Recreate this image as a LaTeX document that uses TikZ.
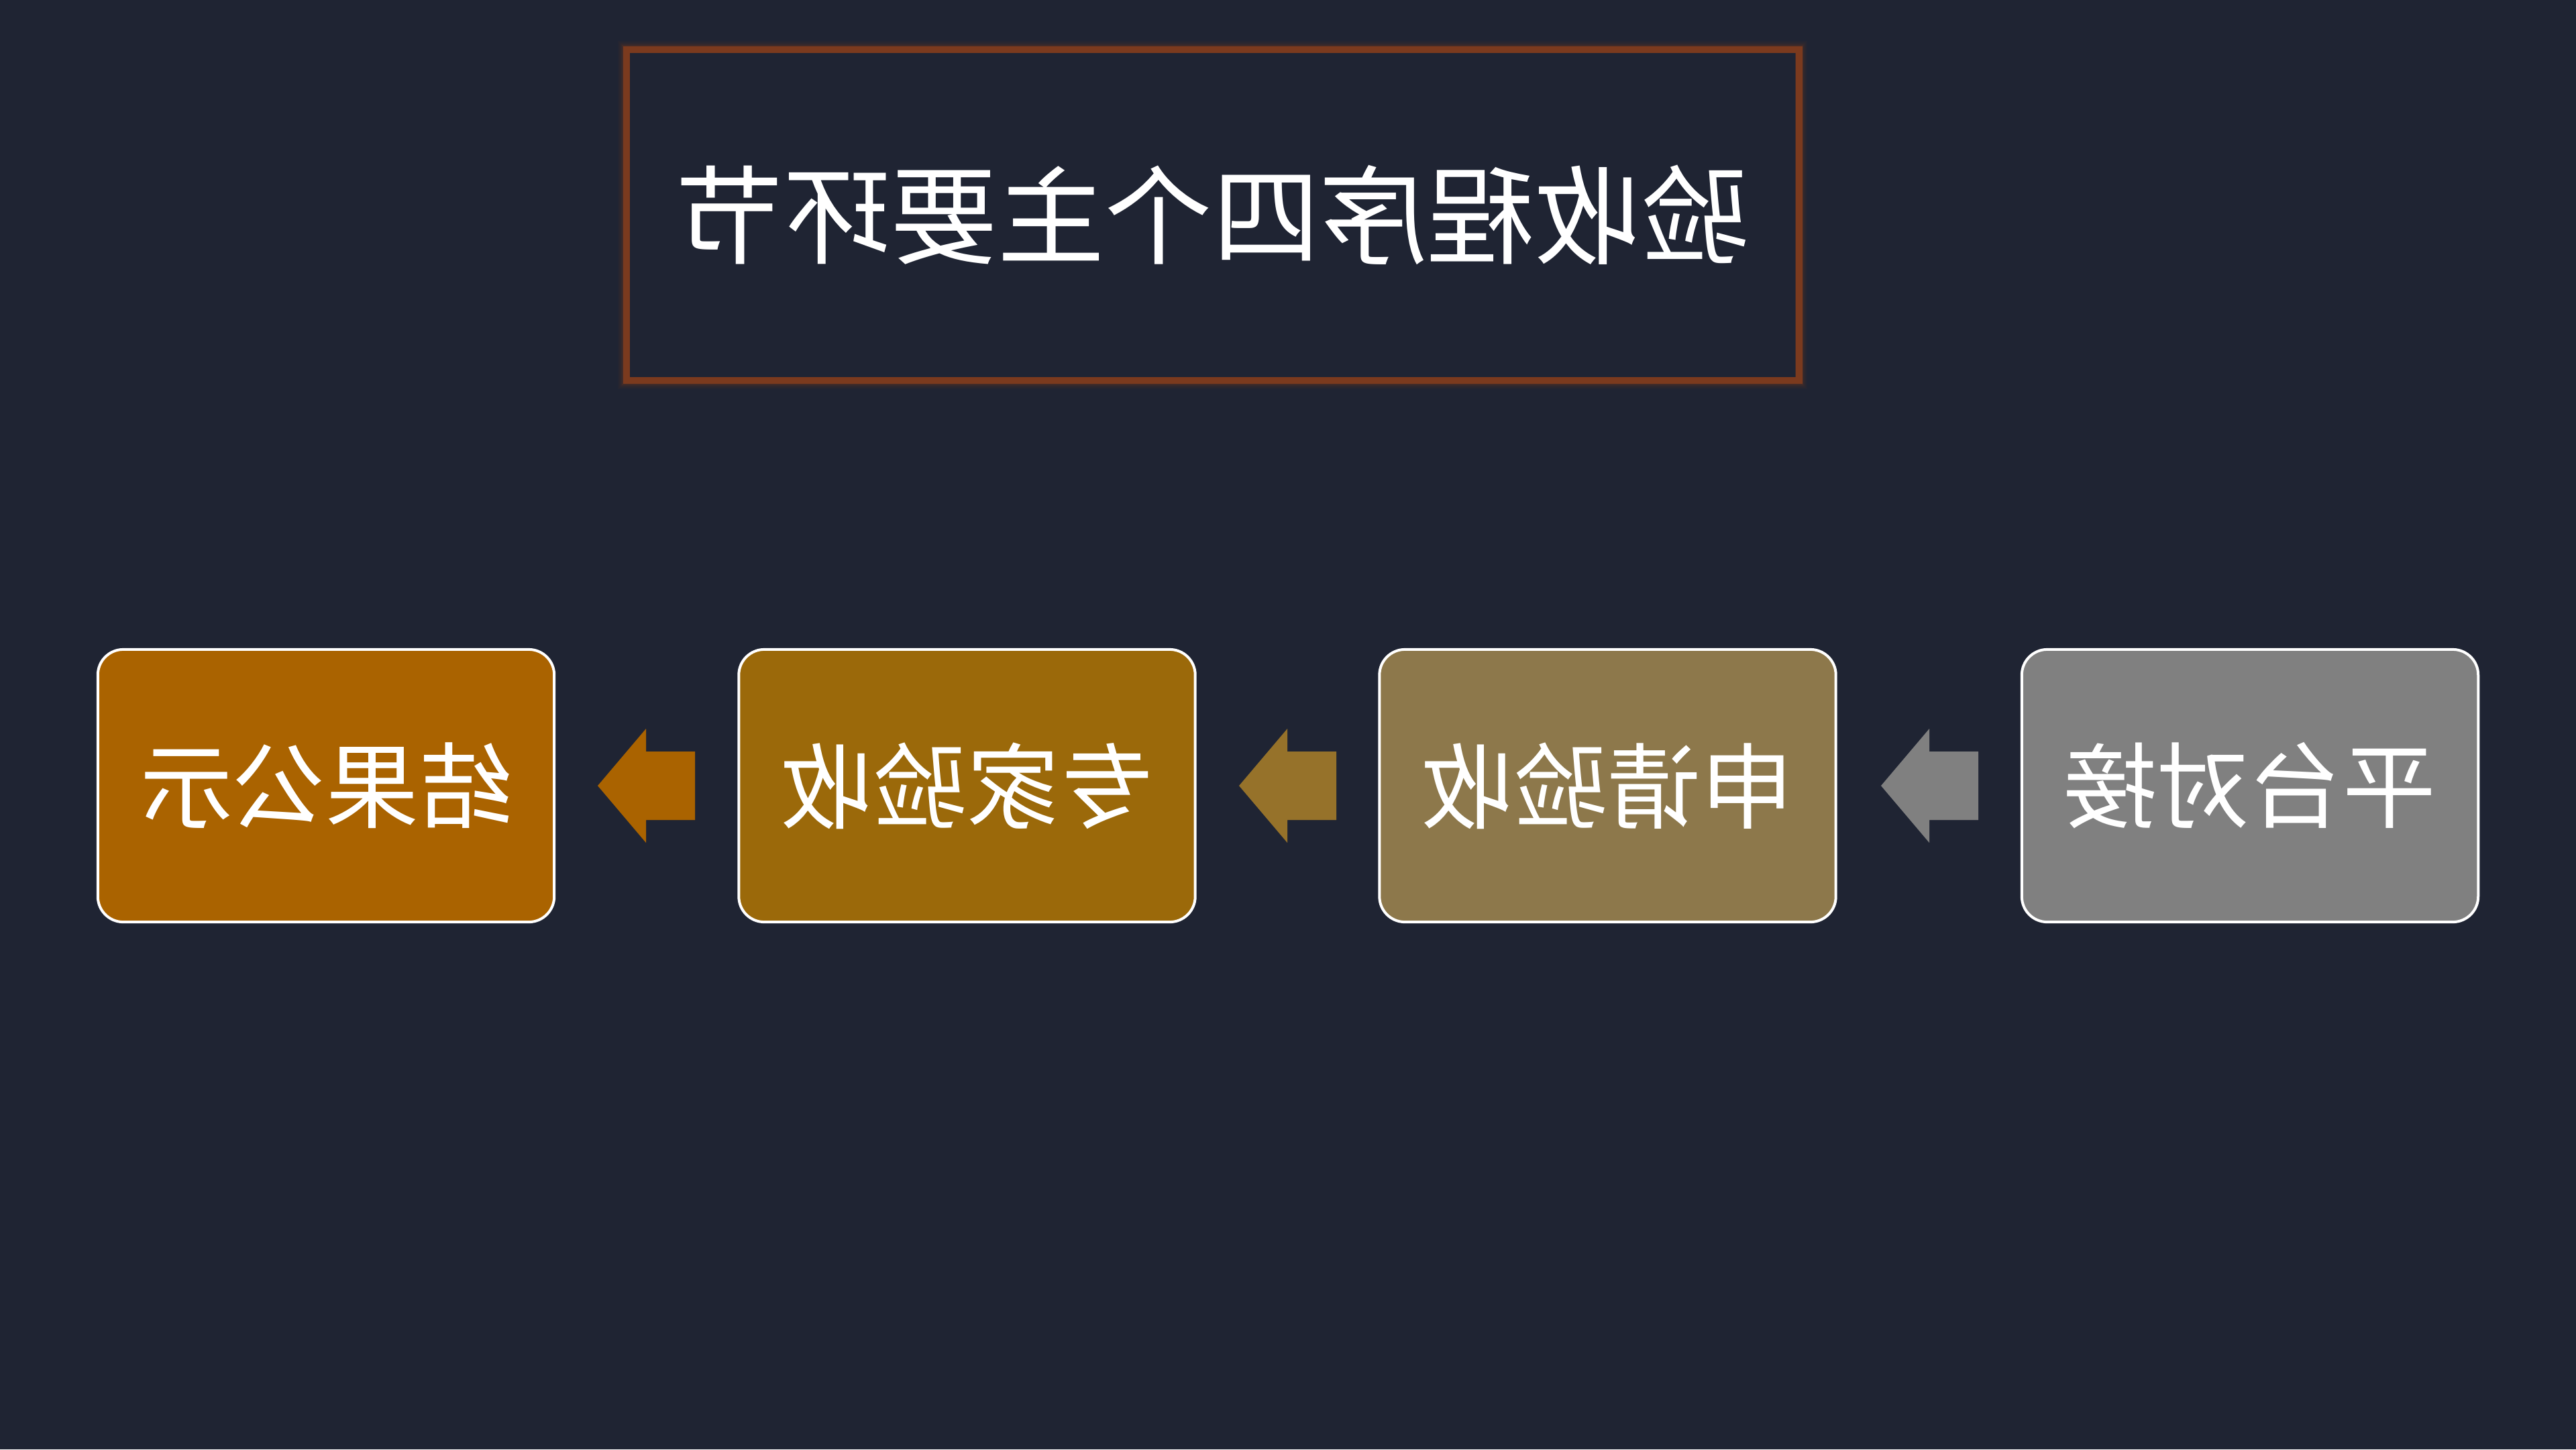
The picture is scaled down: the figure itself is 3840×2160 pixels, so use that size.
\documentclass[tikz,border=0pt]{standalone}
\usepackage{fontspec}
\usepackage{graphicx}
\newfontfamily\cjk{Noto Sans CJK SC}
\definecolor{bg}{HTML}{1F2433}
\definecolor{titleline}{HTML}{7B3A1E}
\definecolor{cA}{HTML}{AA6300}
\definecolor{cB}{HTML}{9B690A}
\definecolor{cC}{HTML}{8D784B}
\definecolor{cD}{HTML}{808080}
\definecolor{arB}{HTML}{96722A}
\tikzset{
  stepbox/.style={draw=white, line width=0.04cm, rounded corners=0.38cm,
    minimum width=6.8cm, minimum height=4.06cm, inner sep=0pt,
    text=white, font=\cjk\fontsize{39.5pt}{40pt}\selectfont},
  titlebox/.style={draw=titleline, line width=0.1cm,
    minimum width=17.47cm, minimum height=4.93cm, inner sep=0pt,
    text=white, font=\cjk\fontsize{45.5pt}{46pt}\selectfont},
  blockarrow/.style={fill=#1, draw=none}
}
\newcommand{\mkarrow}[2]{%
  \fill[blockarrow=#2] (#1) -- ++(72,-85) -- ++(0,34) -- ++(73,0) -- ++(0,102)
    -- ++(-73,0) -- ++(0,34) -- cycle;}
\begin{document}
\begin{tikzpicture}[x=0.01cm,y=-0.01cm]
  \fill[bg] (0,0) rectangle (3840,2160);
  \useasboundingbox (0,0) rectangle (3840,2160);
  % glow around title frame
  \foreach \w/\o in {26/0.06,22/0.08,18/0.12,14/0.2} {
    \draw[titleline, line width=\w*0.01cm, opacity=\o] (934,74) rectangle (2681,567);
  }
  \fill[bg] (939,79) rectangle (2676,562);
  \node[titlebox] (title) at (1807.5,320.5) {\reflectbox{验收程序四个主要环节}};
  % boxes
  \node[stepbox, fill=cA] (b1) at (486,1171) {\reflectbox{结果公示}};
  \node[stepbox, fill=cB] (b2) at (1441.5,1171) {\reflectbox{专家验收}};
  \node[stepbox, fill=cC] (b3) at (2396.5,1171) {\reflectbox{申请验收}};
  \node[stepbox, fill=cD] (b4) at (3354,1171) {\reflectbox{平台对接}};
  % arrows
  \coordinate (t1) at (891,1171);
  \coordinate (t2) at (1847,1171);
  \coordinate (t3) at (2804,1171);
  \mkarrow{t1}{cA}
  \mkarrow{t2}{arB}
  \mkarrow{t3}{cD}
\end{tikzpicture}
\end{document}
